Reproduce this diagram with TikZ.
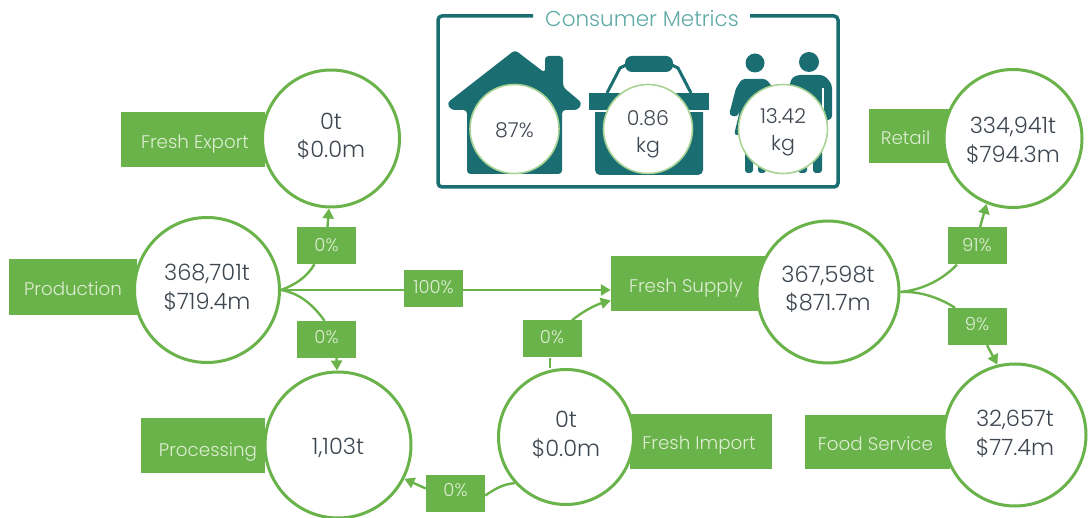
\documentclass[tikz,border=0pt]{standalone}
\usepackage{fontspec}
\setmainfont{Poppins Light}
\definecolor{grn}{HTML}{6AB24A}
\definecolor{lgrn}{HTML}{A9D394}
\definecolor{teal1}{HTML}{1A6E72}
\definecolor{teal2}{HTML}{5FAAA6}
\definecolor{ink}{HTML}{3E4650}
\definecolor{pale}{HTML}{DDEED3}
\usetikzlibrary{arrows.meta}
\newcommand\nudged[2]{\raisebox{\dimexpr#1pt-0.25em\relax}[0pt][0pt]{\begin{tabular}{@{}c@{}}#2\end{tabular}}}
\tikzset{
  label box/.style={fill=grn,draw=none,inner sep=0pt,text=pale,font=\fontsize{18.3}{22}\selectfont},
  pct box/.style={fill=grn,draw=none,inner sep=0pt,minimum width=59pt,minimum height=37pt,text=pale,font=\fontsize{18}{21}\selectfont},
  stage/.style={circle,draw=grn,line width=3pt,fill=white,inner sep=0pt,text=ink,align=center,font=\fontsize{22.5}{28.5}\selectfont},
  metric/.style={circle,draw=lgrn,line width=1.6pt,fill=white,inner sep=0pt,minimum size=89pt,text=ink,align=center,font=\fontsize{20.5}{27}\selectfont},
  link/.style={draw=grn,line width=2.4pt},
  flow/.style={link,-{Triangle[length=10pt,width=11pt]}},
  icon/.style={fill=teal1,draw=none},
}
\begin{document}
\begin{tikzpicture}[x=1pt,y=-1pt]
\useasboundingbox (0,0) rectangle (1090,518);
% label boxes
\node[label box,minimum width=144pt,minimum height=55pt] (exportlab) at (193,139.5) {\hspace*{4pt}\nudged{-4}{Fresh Export}};
\node[label box,minimum width=128pt,minimum height=56pt] (prodlab) at (73,287) {\nudged{-4}{Production}};
\node[label box,minimum width=124pt,minimum height=55pt] (proclab) at (203,445.5) {\hspace*{10pt}\nudged{-6}{Processing}};
\node[label box,minimum width=154pt,minimum height=55pt] (supplylab) at (688,283.5) {\hspace*{-4pt}\nudged{-4}{Fresh Supply}};
\node[label box,minimum width=142pt,minimum height=55pt] (importlab) at (701,441.5) {\hspace*{-4pt}\nudged{-3.5}{Fresh Import}};
\node[label box,minimum width=81pt,minimum height=54pt] (retaillab) at (909.5,136) {\hspace*{-8pt}\nudged{-4}{Retail}};
\node[label box,minimum width=145pt,minimum height=54pt] (foodlab) at (877.5,442) {\hspace*{-4pt}\nudged{-3.5}{Food Service}};
% stages
\node[stage,minimum size=137pt] (export) at (331,138.5) {\nudged{1}{0t\\\$0.0m}};
\node[stage,minimum size=145pt] (prod) at (207,290) {\nudged{1}{368,701t\\\$719.4m}};
\node[stage,minimum size=146pt] (proc) at (338,445) {\nudged{-3}{1,103t}};
\node[stage,minimum size=135pt] (import) at (566,437) {\nudged{1}{0t\\\$0.0m}};
\node[stage,minimum size=142pt] (supply) at (828,292) {\nudged{1.5}{367,598t\\\$871.7m}};
\node[stage,minimum size=138pt] (retail) at (1013,138.5) {\nudged{-3.5}{334,941t\\\$794.3m}};
\node[stage,minimum size=142pt] (food) at (1015,435) {\nudged{0}{32,657t\\\$77.4m}};
% percent boxes
\node[pct box] (pexport) at (326.5,245.5) {\nudged{-2}{0\%}};
\node[pct box] (pproc) at (326.5,339.5) {\nudged{0}{0\%}};
\node[pct box] (pmain) at (433.5,288.5) {\nudged{-1}{100\%}};
\node[pct box] (pimpsup) at (552,339) {\nudged{0}{0\%}};
\node[pct box] (pimpproc) at (455.5,493.5) {\nudged{1}{0\%}};
\node[pct box] (pretail) at (977,246) {\nudged{-1}{91\%}};
\node[pct box] (pfood) at (977,326.5) {\nudged{0}{9\%}};
% connectors
\coordinate (psrc) at (prod.east);
\coordinate (ssrc) at (supply.east);
\draw[link] (psrc) .. controls (295,285) and (307,277) .. ([xshift=-12pt]pexport.south);
\draw[flow] ([xshift=1pt]pexport.north) -- ([xshift=-2pt]export.south);
\draw[link] (psrc) .. controls (298,293) and (312,303) .. ([xshift=-2pt]pproc.north);
\draw[flow] ([xshift=10pt]pproc.south) -- ([xshift=-1pt]proc.north);
\draw[link] (psrc) -- ([yshift=-1.5pt]pmain.west);
\draw[flow] ([yshift=-1.5pt]pmain.east) -- ([yshift=-6.5pt]supplylab.west);
\draw[link] ([xshift=-2pt]pimpsup.south) -- ([xshift=-16pt]import.north);
\draw[flow] ([xshift=20pt]pimpsup.north) .. controls (582,312) and (595,305) .. ([yshift=-17pt]supplylab.west);
\draw[link] (import.222) .. controls (503,484) and (495,489) .. ([yshift=-2pt]pimpproc.east);
\draw[flow] ([yshift=5pt]pimpproc.west) -- (proc.-27);
\draw[link] (ssrc) .. controls (920,290) and (940,282) .. ([xshift=-20pt]pretail.south);
\draw[flow] ([xshift=3pt]pretail.north) -- (retail.-112);
\draw[link] (ssrc) .. controls (920,291) and (940,298) .. ([xshift=-22pt]pfood.north);
\draw[flow] ([xshift=10pt]pfood.south) -- (food.104);
% consumer metrics frame
\coordinate (ftl) at (438,16);
\coordinate (fbr) at (838,187);
\draw[teal1,line width=3.5pt,rounded corners=4pt] (533,16) -- (ftl) -- (438,187) -- (fbr) -- (838,16) -- (750,16);
\node[text=teal2,font=\fontsize{21.5}{25}\selectfont] (ctitle) at (642,19) {Consumer Metrics};
% house
\fill[icon,rounded corners=3.5pt] (515,50) -- (545,73) -- (545,56) -- (563,56) -- (563,87) -- (582,103) -- (578,110) -- (562,110) -- (562,174) -- (467,174) -- (467,110) -- (451,110) -- (447,103) -- cycle;
% basket
\fill[icon,rounded corners=5pt] (595,104) -- (703,104) -- (703,175) -- (595,175) -- cycle;
\fill[icon] (589,93) rectangle (708.5,110);
\fill[white] (590,110) rectangle (708,112);
\fill[icon,rounded corners=7pt] (625,56) rectangle (673,72);
\draw[teal1,line width=3pt] (607,93) -- (620,68) -- (630,63);
\draw[teal1,line width=3pt] (691,93) -- (678,68) -- (668,63);
% people
\fill[icon] (755,63) circle (9.5pt);
\fill[icon] (809,62) circle (10pt);
\fill[icon,rounded corners=3pt] (742,79) -- (766,79) -- (775,90) -- (775,135) -- (734,135) -- (740,110) -- (737,117) -- (729,115) -- (736,88) -- cycle;
\fill[icon,rounded corners=3pt] (745,130) rectangle (753,173);
\fill[icon,rounded corners=3pt] (758,130) rectangle (766,173);
\fill[icon,rounded corners=4pt] (796,75) -- (824,75) -- (832,84) -- (832,120) -- (824,120) -- (824,135) -- (790,135) -- (790,80) -- cycle;
\fill[icon,rounded corners=3pt] (798,130) rectangle (807,173);
\fill[icon,rounded corners=3pt] (813,130) rectangle (822,173);
\draw[white,line width=1.2pt] (823,88) -- (823,122);
% metric circles
\node[metric] (m1) at (514.5,129) {\nudged{-3}{87\%}};
\node[metric] (m2) at (648,129) {\nudged{-4.5}{0.86\\kg}};
\node[metric] (m3) at (783,129) {\nudged{-3}{13.42\\kg}};
\end{tikzpicture}
\end{document}
